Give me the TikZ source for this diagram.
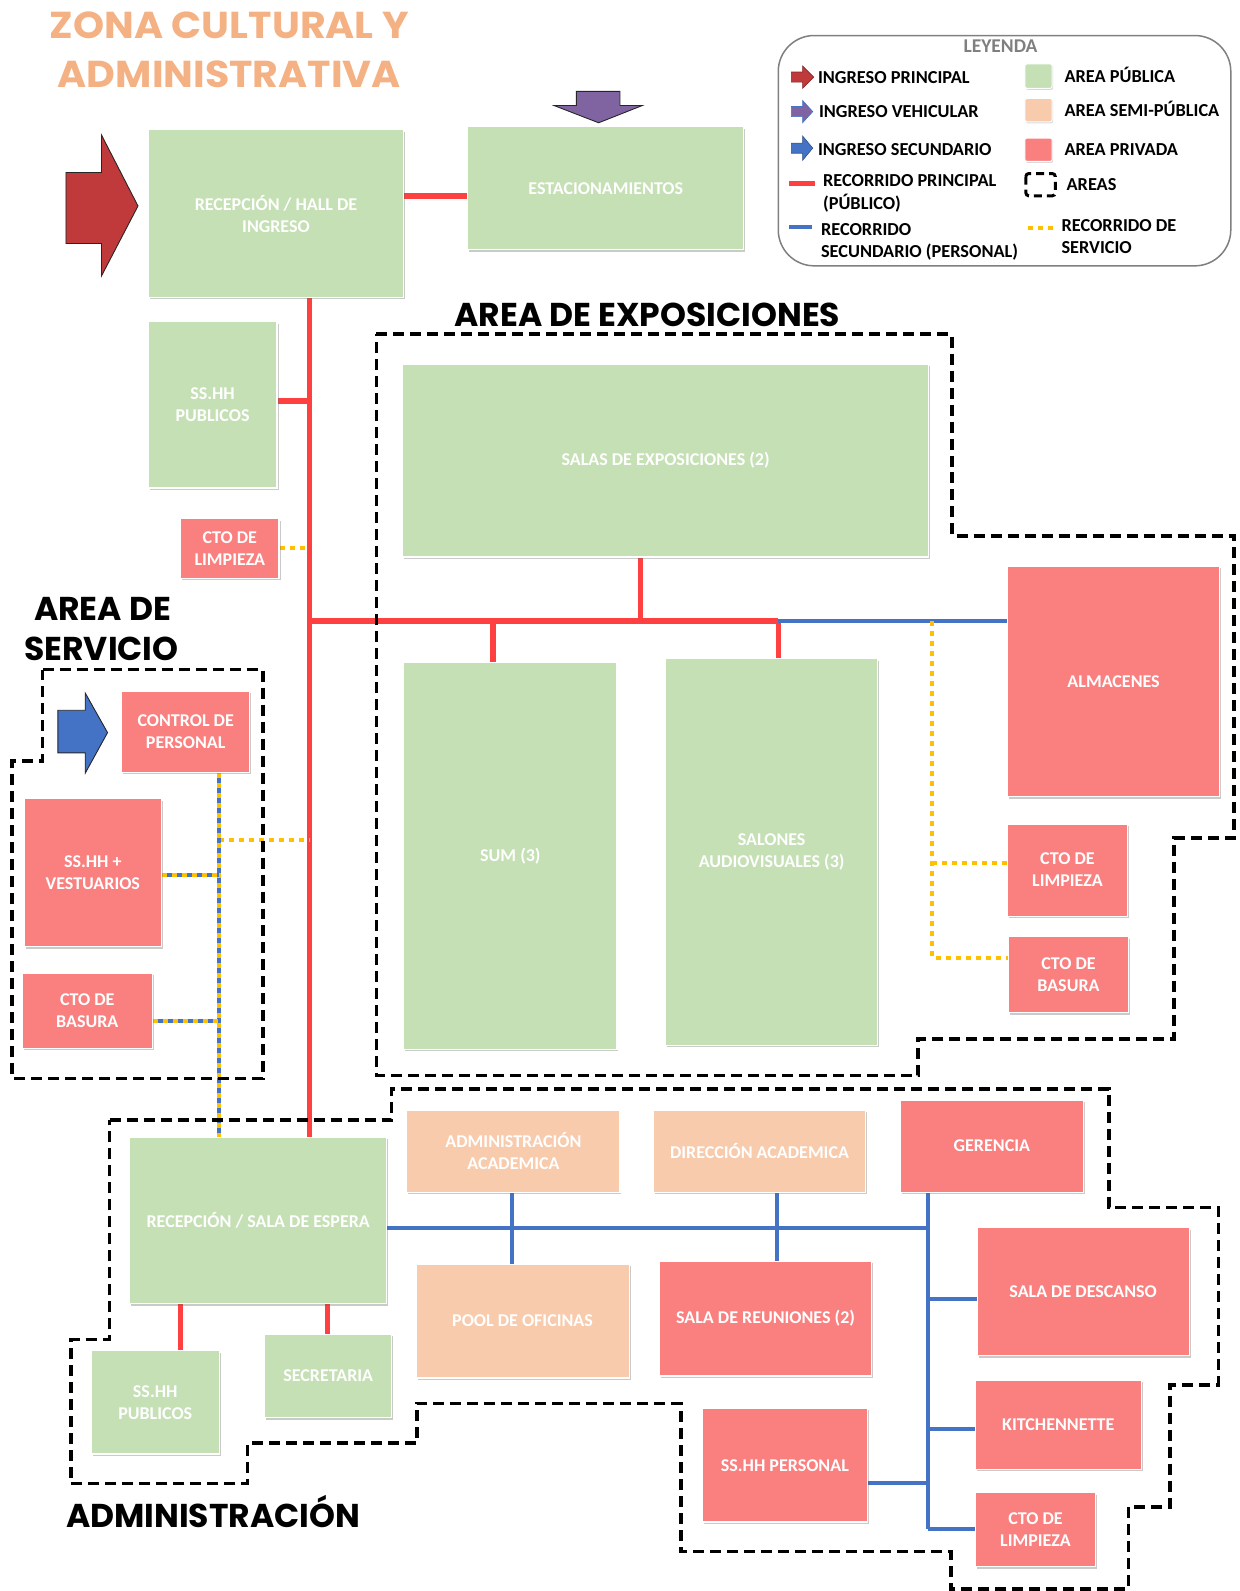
\documentclass[tikz,border=0pt]{standalone}
\usepackage{fontspec}
\setmainfont{Carlito}
\newfontfamily\headfont{Poppins}
\usetikzlibrary{fit,shadows,backgrounds}
\definecolor{pubc}{HTML}{C5E0B4}
\definecolor{semic}{HTML}{F8CBAD}
\definecolor{privc}{HTML}{FA8080}
\definecolor{lnred}{HTML}{FF4040}
\definecolor{lnblue}{HTML}{4472C4}
\definecolor{lnyel}{HTML}{FFC000}
\definecolor{titc}{HTML}{F4B183}
\definecolor{arrred}{HTML}{C0393B}
\definecolor{arrpur}{HTML}{8064A2}
\definecolor{arrblue}{HTML}{4472C4}
\definecolor{leggray}{HTML}{7F7F7F}
\newcommand\roombox[4]{%
  \node[#1, fit=#2] (#3) {};
  \node[rtext] (#3-t) at (#3.center) {#4};}
\begin{document}
\begin{tikzpicture}[x=1.0147pt,y=-1.0147pt,
 room/.style={draw=white, line width=1.2pt, inner sep=0pt,
   drop shadow={shadow xshift=1.5pt, shadow yshift=-2pt, opacity=0.35, fill=black!60}},
 rtext/.style={inner sep=0pt, align=center, text=white, font=\bfseries\fontsize{18}{22}\selectfont},
 pub/.style={room, fill=pubc},
 semi/.style={room, fill=semic},
 priv/.style={room, fill=privc},
 redl/.style={draw=lnred, line width=5.5pt},
 bluel/.style={draw=lnblue, line width=4pt},
 yell/.style={draw=lnyel, line width=4pt, dash pattern=on 5pt off 5pt},
 mixl/.style={bluel, postaction={draw=lnyel, line width=4pt, dash pattern=on 5pt off 5pt}},
 zone/.style={draw=black, line width=3.6pt, dash pattern=on 11pt off 6pt},
 legt/.style={anchor=base west, inner sep=0pt, font=\bfseries\fontsize{18.3}{22}\selectfont},
 headt/.style={anchor=base, inner sep=0pt, text=titc, font=\headfont\bfseries\fontsize{37.5}{40}\selectfont},
 headh/.style={anchor=base, inner sep=0pt, text=black, font=\headfont\bfseries\fontsize{33}{36}\selectfont},
 arrow/.style={draw=black!85, line width=0.9pt, line join=miter},
 legsq/.style={draw=white, line width=1pt, rounded corners=2pt, drop shadow={shadow xshift=1pt, shadow yshift=-1.5pt, opacity=0.3}}
]
\useasboundingbox (0,0) rectangle (1222,1568);

% ---------- titles ----------
\node[headt] (t1) at (226,38) {\scalebox{1.055}[1]{ZONA CULTURAL Y}};
\node[headt] (t2) at (226,86) {\scalebox{1.055}[1]{ADMINISTRATIVA}};
\node[headh] (h1) at (638,322) {AREA DE EXPOSICIONES};
\node[headh] (h2) at (101,612) {AREA DE};
\node[headh] (h3) at (100,651) {SERVICIO};
\node[headh] (h4) at (210,1505) {ADMINISTRACIÓN};

% ---------- rooms ----------
\roombox{pub}{{(146,128)(398,293)}}{hall}{RECEPCIÓN / HALL DE\\INGRESO}
\roombox{pub}{{(461,125)(733,246)}}{est}{ESTACIONAMIENTOS}
\roombox{pub}{{(146,317)(273,481)}}{sshh1}{SS.HH\\PUBLICOS}
\roombox{priv}{{(178,511)(275,570)}}{cto1}{CTO DE\\LIMPIEZA}
\roombox{pub}{{(397,359)(915,549)}}{salas}{SALAS DE EXPOSICIONES (2)}
\roombox{pub}{{(398,653)(608,1034)}}{sum}{SUM (3)}
\roombox{pub}{{(656,649)(865,1030)}}{salones}{SALONES\\AUDIOVISUALES (3)}
\roombox{priv}{{(993,558)(1202,785)}}{alm}{ALMACENES}
\roombox{priv}{{(993,812)(1111,903)}}{cto2}{CTO DE\\LIMPIEZA}
\roombox{priv}{{(994,923)(1112,998)}}{bas2}{CTO DE\\BASURA}
\roombox{priv}{{(120,681)(246,761)}}{ctrl}{CONTROL DE\\PERSONAL}
\roombox{priv}{{(24,787)(159,933)}}{vest}{SS.HH +\\VESTUARIOS}
\roombox{priv}{{(22,959)(150,1033)}}{bas1}{CTO DE\\BASURA}
\roombox{pub}{{(128,1121)(381,1285)}}{recsala}{RECEPCIÓN / SALA DE ESPERA}
\roombox{semi}{{(401,1094)(611,1175)}}{admac}{ADMINISTRACIÓN\\ACADEMICA}
\roombox{semi}{{(644,1094)(853,1175)}}{dirac}{DIRECCIÓN ACADEMICA}
\roombox{priv}{{(887,1084)(1068,1175)}}{ger}{GERENCIA}
\roombox{semi}{{(410,1246)(620,1358)}}{pool}{POOL DE OFICINAS}
\roombox{priv}{{(650,1243)(859,1356)}}{reun}{SALA DE REUNIONES (2)}
\roombox{priv}{{(963,1210)(1172,1336)}}{desc}{SALA DE DESCANSO}
\roombox{priv}{{(961,1360)(1125,1448)}}{kit}{KITCHENNETTE}
\roombox{priv}{{(961,1471)(1080,1544)}}{cto3}{CTO DE\\LIMPIEZA}
\roombox{priv}{{(692,1388)(855,1500)}}{sshhp}{SS.HH PERSONAL}
\roombox{pub}{{(90,1331)(216,1433)}}{sshh2}{SS.HH\\PUBLICOS}
\roombox{pub}{{(261,1315)(386,1397)}}{sec}{SECRETARIA}

% ---------- helper coordinates ----------
\coordinate (sx) at (305,0);
\coordinate (yh) at (0,193);
\coordinate (y395) at (0,395);
\coordinate (jA) at (305,612);
\coordinate (j486) at (486,612);
\coordinate (j631) at (631,612);
\coordinate (j767) at (767,612);
\coordinate (j919) at (919,612);
\coordinate (y828) at (0,828);
\coordinate (sv) at (216,0);
\coordinate (y862) at (0,862);
\coordinate (y1006) at (0,1006);
\coordinate (y851) at (0,851);
\coordinate (y944) at (0,944);
\coordinate (x178) at (178,0);
\coordinate (x323) at (323,0);
\coordinate (y1210) at (0,1210);
\coordinate (bx) at (915,0);
\coordinate (x505) at (505,0);
\coordinate (x766) at (766,0);
\coordinate (y1280) at (0,1280);
\coordinate (y1408) at (0,1408);
\coordinate (y1507) at (0,1507);
\coordinate (y1462) at (0,1462);

\begin{scope}[on background layer]
% red (public)
\draw[redl] (hall.east |- yh) -- (est.west |- yh);
\draw[redl] (hall.south -| sx) -- (recsala.north -| sx);
\draw[redl] (sshh1.east |- y395) -- (sx |- y395);
\draw[redl] (jA) -- (j767);
\draw[redl] (salas.south -| j631) -- (j631);
\draw[redl] (j486) -- (sum.north -| j486);
\draw[redl] (j767) -- (salones.north -| j767);
\draw[redl] (recsala.south -| x178) -- (sshh2.north -| x178);
\draw[redl] (recsala.south -| x323) -- (sec.north -| x323);
% blue (staff)
\draw[bluel] (j767) -- (alm.west |- j767);
\draw[bluel] (recsala.east |- y1210) -- (bx |- y1210);
\draw[bluel] (admac.south -| x505) -- (pool.north -| x505);
\draw[bluel] (dirac.south -| x766) -- (reun.north -| x766);
\draw[bluel] (ger.south -| bx) -- (bx |- y1507);
\draw[bluel] (bx |- y1280) -- (desc.west |- y1280);
\draw[bluel] (bx |- y1408) -- (kit.west |- y1408);
\draw[bluel] (bx |- y1507) -- (cto3.west |- y1507);
\draw[bluel] (sshhp.east |- y1462) -- (bx |- y1462);
% yellow (service)
\draw[yell] (cto1.east) -- (cto1.east -| sx);
\draw[yell] (j919) -- (j919 |- y944) -- (bas2.west |- y944);
\draw[yell] (j919 |- y851) -- (cto2.west |- y851);
\draw[yell] (sv |- y828) -- (sx |- y828);
% mixed
\draw[mixl] (ctrl.south -| sv) -- (recsala.north -| sv);
\draw[mixl] (vest.east |- y862) -- (sv |- y862);
\draw[mixl] (bas1.east |- y1006) -- (sv |- y1006);
% zones
\draw[zone] (371,329) -- (938,329) -- (938,528) -- (1216,528) -- (1216,826) -- (1157,826)
  -- (1157,1024) -- (905,1024) -- (905,1060) -- (371,1060) -- cycle;
\draw[zone] (42,660) -- (259,660) -- (259,1063) -- (12,1063) -- (12,750) -- (42,750) -- cycle;
\draw[zone] (108,1104) -- (386,1104) -- (386,1073) -- (1093,1073) -- (1093,1190) -- (1201,1190)
  -- (1201,1365) -- (1153,1365) -- (1153,1485) -- (1112,1485) -- (1112,1566) -- (937,1566)
  -- (937,1529) -- (671,1529) -- (671,1383) -- (411,1383) -- (411,1422) -- (244,1422)
  -- (244,1462) -- (70,1462) -- (70,1320) -- (108,1320) -- cycle;
\end{scope}

% ---------- entrance arrows ----------
\filldraw[arrow, fill=arrred] (65,170) -- (100,170) -- (100,133) -- (136,203) -- (100,272) -- (100,240) -- (65,240) -- cycle;
\filldraw[arrow, fill=arrpur] (568,90) -- (611,90) -- (611,104) -- (633,104) -- (590,121) -- (546,104) -- (568,104) -- cycle;
\filldraw[arrow, fill=arrblue] (57,700) -- (84,700) -- (84,683) -- (106,722) -- (84,762) -- (84,742) -- (57,742) -- cycle;

% ---------- legend ----------
\node[draw=leggray, line width=1.5pt, rounded corners=36pt, inner sep=0pt, fit={(767,35)(1213,262)}] (legend) {};
\node[anchor=base, inner sep=0pt, text=leggray, font=\bfseries\fontsize{19.5}{21}\selectfont] (leyenda) at (986,52) {LEYENDA};
\filldraw[arrow, line width=0.6pt, draw=arrred!70!black, fill=arrred] (780,71) -- (791,71) -- (791,65) -- (802,76) -- (791,87) -- (791,81) -- (780,81) -- cycle;
\filldraw[arrow, line width=0.6pt, draw=lnblue, fill=arrpur] (780,105) -- (791,105) -- (791,99) -- (801,110) -- (791,121) -- (791,115) -- (780,115) -- cycle;
\filldraw[arrow, line width=0.6pt, draw=lnblue!70!black, fill=arrblue] (780,141) -- (791,141) -- (791,134) -- (801,146) -- (791,158) -- (791,151) -- (780,151) -- cycle;
\draw[redl] (778,181) -- (803,181);
\draw[bluel] (778,224) -- (800,224);
\node[legt] (l1) at (806,82) {INGRESO PRINCIPAL};
\node[legt] (l2) at (807,116) {INGRESO VEHICULAR};
\node[legt] (l3) at (806,153) {INGRESO SECUNDARIO};
\node[legt] (l4a) at (811,184) {RECORRIDO PRINCIPAL};
\node[legt] (l4b) at (811,206) {(PÚBLICO)};
\node[legt] (l5a) at (809,232) {RECORRIDO};
\node[legt] (l5b) at (809,254) {SECUNDARIO (PERSONAL)};
\fill[legsq, fill=pubc] (1010,63) rectangle (1037,87);
\fill[legsq, fill=semic] (1010,97) rectangle (1037,120);
\fill[legsq, fill=privc] (1010,136) rectangle (1037,159);
\draw[draw=black, line width=3pt, dash pattern=on 8pt off 5pt, rounded corners=3pt] (1011,171) rectangle (1040,193);
\draw[yell] (1013,225) -- (1038,225);
\node[legt] (r1) at (1049,81) {AREA PÚBLICA};
\node[legt] (r2) at (1049,115) {AREA SEMI-PÚBLICA};
\node[legt] (r3) at (1049,153) {AREA PRIVADA};
\node[legt] (r4) at (1051,188) {AREAS};
\node[legt] (r5a) at (1046,228) {RECORRIDO DE};
\node[legt] (r5b) at (1046,250) {SERVICIO};
\end{tikzpicture}
\end{document}
